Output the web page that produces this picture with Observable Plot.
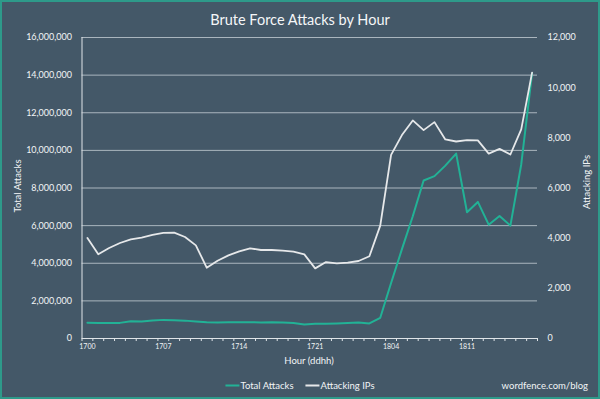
<!DOCTYPE html>
<html>
<head>
<meta charset="utf-8">
<script src="https://cdn.jsdelivr.net/npm/d3@7"></script>
<script src="https://cdn.jsdelivr.net/npm/@observablehq/plot@0.6"></script>
<style>
  html, body { margin: 0; padding: 0; background: #445868; }
  #wrap { position: relative; width: 600px; height: 399px; background: #445868; overflow: hidden; font-family: Lato, "Open Sans", sans-serif; color: #f2f4f6; }
  #wrap svg { position: absolute; left: 0; top: 0; }
  .abs { position: absolute; white-space: nowrap; }
  #title { left: 0; width: 600px; top: 11px; text-align: center; font-size: 14.5px; color: #f4f6f8; }
  #ylab { left: 17px; top: 186px; font-size: 9.5px; transform: translate(-50%, -50%) rotate(-90deg); }
  #y2lab { left: 586px; top: 182px; font-size: 9.5px; transform: translate(-50%, -50%) rotate(-90deg); }
  #xlab { left: 309px; top: 360px; font-size: 9.5px; transform: translate(-50%, -50%); }
  #legend { left: 300px; top: 385px; transform: translate(-50%, -50%); font-size: 9.5px; display: flex; align-items: center; }
  .sw { display: inline-block; width: 14px; height: 2px; margin-right: 1px; }
  #credit { right: 12px; top: 385px; transform: translateY(-50%); font-size: 9.5px; }
  #border { left: 0; top: 0; width: 600px; height: 399px; box-sizing: border-box; border: 2px solid #2e9a8a; pointer-events: none; }
</style>
</head>
<body>
<div id="wrap">
  <div id="chart"></div>
  <div id="title" class="abs">Brute Force Attacks by Hour</div>
  <div id="ylab" class="abs">Total Attacks</div>
  <div id="y2lab" class="abs">Attacking IPs</div>
  <div id="xlab" class="abs">Hour (ddhh)</div>
  <div id="legend" class="abs"><span class="sw" style="background:#22b296"></span>Total Attacks<span style="display:inline-block;width:12px"></span><span class="sw" style="background:#e6e8ea"></span>Attacking IPs</div>
  <div id="credit" class="abs">wordfence.com/blog</div>
  <div id="border" class="abs"></div>
</div>
<script>
const hours = ["1700","1701","1702","1703","1704","1705","1706","1707","1708","1709","1710","1711","1712","1713","1714","1715","1716","1717","1718","1719","1720","1721","1722","1723",
               "1800","1801","1802","1803","1804","1805","1806","1807","1808","1809","1810","1811","1812","1813","1814","1815","1816","1817"];
const totalAttacks = [840000,820000,820000,830000,920000,910000,960000,990000,970000,950000,900000,860000,850000,860000,870000,870000,850000,860000,850000,820000,750000,780000,
                      790000,800000,820000,850000,800000,1100000,2950000,4750000,6500000,8400000,8630000,9190000,9830000,6710000,7260000,6050000,6510000,6000000,9250000,14100000];
const attackingIPs = [4006,3355,3607,3807,3954,4020,4127,4207,4220,4047,3714,2822,3102,3315,3474,3594,3528,3528,3501,3461,3355,2795,
                      3048,2995,3022,3090,3280,4500,7320,8110,8693,8307,8626,7934,7854,7907,7900,7370,7560,7335,8340,10600];
const leftTicks = [0,2000000,4000000,6000000,8000000,10000000,12000000,14000000,16000000];
const rightTicks = [0,2000,4000,6000,8000,10000,12000];
const xLabelHours = ["1700","1707","1714","1721","1804","1811"];

const ratio = 16000000 / 12000;
const rows = hours.map((h, i) => ({hour: h, xi: i + 0.5, attacks: totalAttacks[i], ips: attackingIPs[i]}));
const boundaries = d3.range(0, hours.length + 1);
const fmt = d3.format(",");

const chart = Plot.plot({
  width: 600,
  height: 399,
  marginLeft: 81.5,
  marginRight: 63,
  marginTop: 37,
  marginBottom: 61,
  style: {background: "transparent", color: "#f2f4f6", fontFamily: "Lato, 'Open Sans', sans-serif"},
  x: {type: "linear", domain: [0, hours.length], axis: null},
  y: {type: "linear", domain: [0, 16000000], axis: null},
  marks: [
    Plot.ruleY(leftTicks.slice(1), {y: d => d, stroke: "#aab5be", strokeWidth: 1}),
    Plot.ruleY([0], {y: d => d, stroke: "#dfe4e8", strokeWidth: 1}),
    Plot.ruleX([0], {x: d => d, stroke: "#dfe4e8", strokeWidth: 1}),
    Plot.ruleX(boundaries, {x: d => d, y1: () => 0, y2: () => 0, insetBottom: -3, stroke: "#dfe4e8", strokeWidth: 1}),
    Plot.text(leftTicks, {y: d => d, text: d => fmt(d), frameAnchor: "left", dx: -10, textAnchor: "end", fontSize: 9, fill: "#f2f4f6"}),
    Plot.text(rightTicks, {y: d => d * ratio, text: d => fmt(d), frameAnchor: "right", dx: 10, textAnchor: "start", fontSize: 9, fill: "#f2f4f6"}),
    Plot.text(rows.filter(r => xLabelHours.includes(r.hour)), {x: "xi", text: "hour", frameAnchor: "bottom", dy: 10, fontSize: 7, fill: "#f2f4f6"}),
    Plot.line(rows, {x: "xi", y: "attacks", stroke: "#22b296", strokeWidth: 2}),
    Plot.line(rows, {x: "xi", y: d => d.ips * ratio, stroke: "#e6e8ea", strokeWidth: 1.8})
  ]
});
document.getElementById("chart").appendChild(chart);
</script>
</body>
</html>
